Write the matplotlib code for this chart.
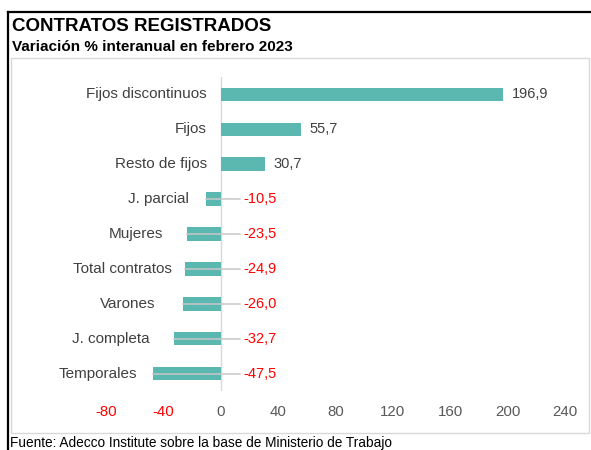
import matplotlib.pyplot as plt
from matplotlib.lines import Line2D
from matplotlib.patches import Rectangle

plt.rcParams['font.family'] = ['Liberation Sans', 'DejaVu Sans']

# Data (top to bottom)
categories = ['Fijos discontinuos', 'Fijos', 'Resto de fijos', 'J. parcial', 'Mujeres',
              'Total contratos', 'Varones', 'J. completa', 'Temporales']
values = [196.9, 55.7, 30.7, -10.5, -23.5, -24.9, -26.0, -32.7, -47.5]
xticks = [-80, -40, 0, 40, 80, 120, 160, 200, 240]

W, H = 591, 450
fig = plt.figure(figsize=(W / 100, H / 100), dpi=100)

def fx(px):
    return px / W

def fy(py):
    return 1 - py / H

# outer black frame (top and left)
fig.add_artist(Line2D([fx(8), 1], [fy(12), fy(12)], color='black', lw=1.6))
fig.add_artist(Line2D([fx(8), fx(8)], [fy(12), 0], color='black', lw=1.6))
# inner light grey box
fig.add_artist(Rectangle((fx(11), fy(433)), fx(589) - fx(11), fy(58) - fy(433),
                         fill=False, edgecolor='#d9d9d9', lw=1))

fig.text(fx(12), fy(18), 'CONTRATOS REGISTRADOS', fontsize=13.5, fontweight='bold',
         va='top', ha='left', color='black')
fig.text(fx(12), fy(40), 'Variación % interanual en febrero 2023', fontsize=11,
         fontweight='bold', va='top', ha='left', color='black')
fig.text(fx(10), fy(435.5), 'Fuente: Adecco Institute sobre la base de Ministerio de Trabajo',
         fontsize=9.8, va='top', ha='left', color='black')

ax = fig.add_axes([fx(106), fy(391), fx(565) - fx(106), fy(77) - fy(391)])
bar_color = '#5bb8b1'
ypos = list(range(len(categories)))[::-1]
ax.barh(ypos, values, height=0.39, color=bar_color, zorder=2)
ax.axvline(0, color='#d9d9d9', lw=1, zorder=1)

ax.set_xlim(-80, 240)
ax.set_ylim(-0.5, len(categories) - 0.5)
ax.set_xticks(xticks)
ax.set_xticklabels([str(t) for t in xticks])
for lab, t in zip(ax.get_xticklabels(), xticks):
    lab.set_color('#ff0000' if t < 0 else '#595959')
ax.tick_params(axis='x', length=0, pad=10, labelsize=10.8)
ax.set_yticks([])
for s in ax.spines.values():
    s.set_visible(False)
ax.patch.set_alpha(0)

# gap (px) between category label and the left end of each bar, as placed in the original
label_gap = [14, 14, 14, 16.5, 23.5, 13.5, 28, 24, 15.5]

for y, cat, v, g in zip(ypos, categories, values, label_gap):
    ax.annotate(cat, (min(v, 0), y), xytext=(-g * 0.72, 0), textcoords='offset points',
                ha='right', va='center', fontsize=11, color='#404040')
    txt = f'{v:.1f}'.replace('.', ',')
    if v >= 0:
        ax.annotate(txt, (v, y), xytext=(6.5, 0), textcoords='offset points',
                    ha='left', va='center', fontsize=10.5, color='#404040')
    else:
        lx = 16
        ax.plot([v, lx - 2.5], [y, y], color='#c8c8c8', lw=1.1, zorder=3)
        ax.text(lx, y, txt, ha='left', va='center', fontsize=10.5, color='#ff0000')

fig.savefig('out.png', dpi=100)
